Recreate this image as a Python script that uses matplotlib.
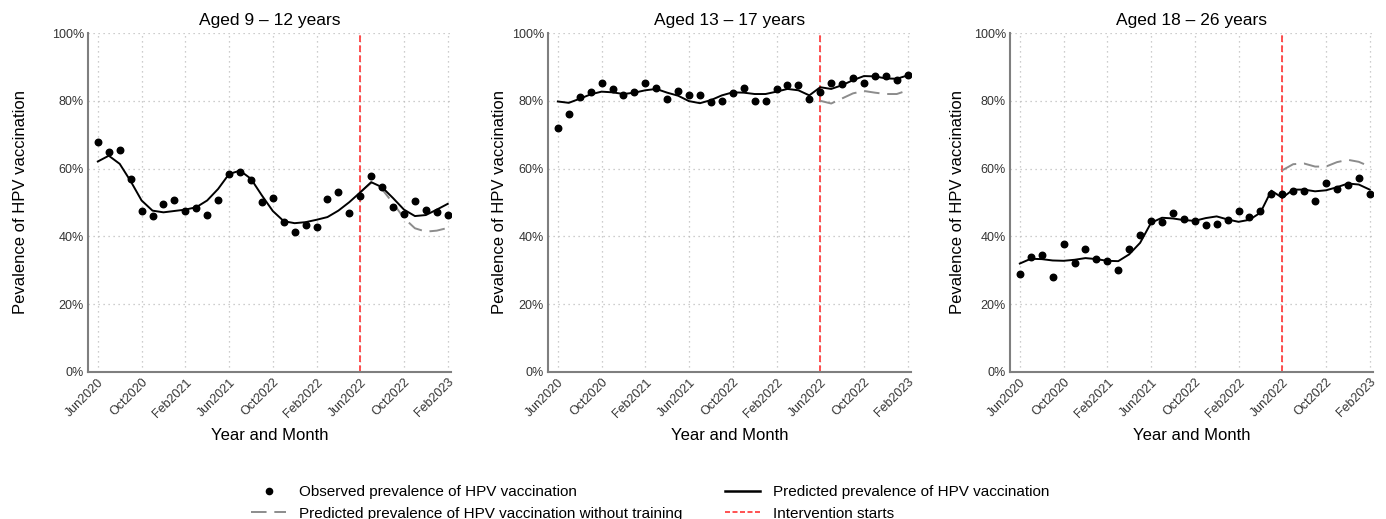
import numpy as np
import matplotlib
matplotlib.use('Agg')
import matplotlib.pyplot as plt
from matplotlib.lines import Line2D
from matplotlib.ticker import PercentFormatter

plt.rcParams['font.family'] = ['Liberation Sans', 'DejaVu Sans']

# month index 0 = Jun2020 ... 32 = Feb2023
tick_pos = [0, 4, 8, 12, 16, 20, 24, 28, 32]
tick_labels = ['Jun2020', 'Oct2020', 'Feb2021', 'Jun2021', 'Oct2022',
               'Feb2022', 'Jun2022', 'Oct2022', 'Feb2023']
intervention = 24  # Jun2022

titles = ['Aged 9 – 12 years', 'Aged 13 – 17 years', 'Aged 18 – 26 years']

# observed prevalence (%)
obs_9_12 = [67.7, 64.8, 65.5, 57.0, 47.6, 45.9, 49.5, 50.6, 47.6, 48.4, 46.4,
            50.8, 58.4, 58.9, 56.7, 50.2, 51.3, 44.2, 41.2, 43.5, 42.9, 51.1,
            53.0, 46.8, 51.9, 57.9, 54.5, 48.6, 46.6, 50.5, 47.7, 47.3, 46.4]
obs_13_17 = [71.9, 76.1, 81.2, 82.6, 85.2, 83.5, 81.8, 82.6, 85.2, 83.7, 80.6,
             82.9, 81.7, 81.7, 79.6, 79.9, 82.4, 83.7, 80.0, 80.0, 83.6, 84.6,
             84.6, 80.5, 82.6, 85.3, 85.1, 86.6, 85.3, 87.4, 87.4, 86.2, 87.5]
obs_18_26 = [28.8, 33.9, 34.5, 28.1, 37.9, 32.3, 36.4, 33.3, 32.6, 30.2, 36.2,
             40.4, 44.4, 44.3, 46.9, 45.2, 44.6, 43.4, 43.8, 44.7, 47.5, 45.8,
             47.5, 52.4, 52.6, 53.3, 53.5, 50.4, 55.8, 54.0, 55.2, 57.1, 52.6]

# predicted prevalence (%)
pred_9_12 = [62.1, 63.8, 61.4, 56.3, 50.6, 47.6, 47.1, 47.5, 47.9, 48.6, 50.6,
             54.0, 58.4, 59.4, 57.0, 52.1, 47.5, 44.5, 43.9, 44.2, 44.9, 45.7,
             47.6, 50.1, 53.0, 56.0, 54.5, 51.3, 47.9, 46.0, 46.3, 47.9, 49.6]
pred_13_17 = [79.8, 79.4, 80.6, 81.9, 82.7, 82.5, 82.0, 82.4, 83.1, 83.5, 82.4,
              81.5, 79.9, 79.3, 80.2, 81.6, 82.5, 82.4, 82.0, 82.0, 82.7, 83.5,
              83.1, 81.6, 84.0, 83.5, 84.6, 86.1, 87.3, 87.2, 86.6, 86.5, 87.5]
pred_18_26 = [32.0, 33.4, 33.3, 32.9, 32.8, 33.1, 33.6, 33.3, 32.8, 32.7, 34.7,
              38.1, 44.0, 45.5, 45.3, 44.8, 44.6, 45.4, 45.9, 45.0, 44.3, 44.9,
              47.0, 53.5, 51.4, 53.8, 53.8, 53.3, 53.6, 54.5, 55.6, 55.3, 53.8]

# predicted without training, Jun2022 onward (%)
cf_9_12 = [53.0, 55.8, 53.9, 49.8, 45.4, 42.4, 41.4, 41.7, 42.5]
cf_13_17 = [80.0, 79.2, 80.7, 82.2, 82.9, 82.4, 82.0, 82.0, 83.1]
cf_18_26 = [59.5, 61.3, 61.5, 60.6, 60.6, 61.9, 62.6, 62.0, 60.6]

observed = [obs_9_12, obs_13_17, obs_18_26]
predicted = [pred_9_12, pred_13_17, pred_18_26]
counterfactual = [cf_9_12, cf_13_17, cf_18_26]

fig = plt.figure(figsize=(13.86, 5.19), dpi=100)
W, H = 1386, 519
lefts = [88, 548, 1010]
ylab_off = [60, 41, 45]  # pixels left of the y axis

for k in range(3):
    ax = fig.add_axes([lefts[k] / W, 1 - 372 / H, 363 / W, (372 - 33) / H])
    x = np.arange(len(observed[k]))
    xc = np.arange(intervention, intervention + len(counterfactual[k]))
    ax.plot(x, np.array(predicted[k]) / 100, color='black', lw=1.4, zorder=3)
    ax.plot(xc, np.array(counterfactual[k]) / 100, color='#8c8c8c', lw=1.4,
            dashes=(8, 4), zorder=2)
    ax.scatter(x, np.array(observed[k]) / 100, s=22, color='black', zorder=4)
    ax.axvline(intervention, color='#ff3333', lw=1.2, dashes=(4, 2), zorder=1)

    ax.set_xlim(-0.9, 32.3)
    ax.set_ylim(0, 1)
    ax.set_yticks([0, 0.2, 0.4, 0.6, 0.8, 1.0])
    ax.yaxis.set_major_formatter(PercentFormatter(1.0, decimals=0))
    ax.set_xticks(tick_pos)
    ax.set_xticklabels(tick_labels, rotation=45, ha='right',
                       rotation_mode='anchor')
    ax.tick_params(length=0, labelsize=9, labelcolor='#333333', pad=3)
    ax.grid(True, color='#bdbdbd', lw=0.9, linestyle=(0, (1, 3)))
    ax.set_axisbelow(True)
    for s in ['top', 'right']:
        ax.spines[s].set_visible(False)
    for s in ['left', 'bottom']:
        ax.spines[s].set_color('#7f7f7f')
        ax.spines[s].set_linewidth(1.5)
    ax.set_title(titles[k], fontsize=12.5, pad=6)
    ax.set_xlabel('Year and Month', fontsize=12, labelpad=6)
    ax.set_ylabel('Pevalence of HPV vaccination', fontsize=12)
    ax.yaxis.set_label_coords(-ylab_off[k] / 363, 0.5)

handles = [
    Line2D([], [], marker='o', ls='none', color='black', markersize=4.5),
    Line2D([], [], color='#8c8c8c', lw=1.4, dashes=(8, 4)),
    Line2D([], [], color='black', lw=1.8),
    Line2D([], [], color='#ff3333', lw=1.2, dashes=(3, 1.5)),
]
labels = [
    'Observed prevalence of HPV vaccination',
    'Predicted prevalence of HPV vaccination without training',
    'Predicted prevalence of HPV vaccination',
    'Intervention starts',
]
fig.legend(handles, labels, ncol=2, loc='lower center',
           bbox_to_anchor=(0.469, -0.03), frameon=False, fontsize=11,
           columnspacing=2.75, handlelength=2.3, handletextpad=0.85,
           labelspacing=0.5)

fig.savefig('out.png', dpi=100)
